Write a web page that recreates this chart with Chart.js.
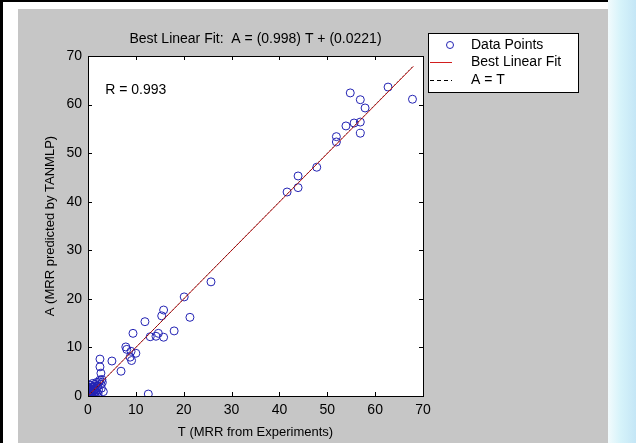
<!DOCTYPE html>
<html lang="en">
<head>
    <meta charset="UTF-8">
    <title>Best Linear Fit</title>
    <script src="https://cdn.jsdelivr.net/npm/chart.js"></script>
    <style>
        body { margin: 0; width: 636px; height: 443px; overflow: hidden; background: #ffffff; position: relative; }
        #leftbar { position: absolute; left: 0; top: 0; width: 3px; height: 443px; background: #000; }
        #topbar { position: absolute; left: 0; top: 0; width: 610px; height: 2px; background: #000; }
        #side { position: absolute; left: 608px; top: 0; width: 28px; height: 443px;
                background: linear-gradient(90deg, #f2fbfd 0%, #d6f3fa 45%, #c4e6f6 100%); }
        #panel { position: absolute; left: 18px; top: 9px; width: 590px; height: 434px; background: #c6c6c6; }
    </style>
</head>
<body>
   <div id="leftbar"></div>
   <div id="topbar"></div>
   <div id="side"></div>
   <div id="panel">
    <canvas id="mychart" width="590" height="434"></canvas>
   </div>
    <script>
        // targets (T) and network outputs (A)
        var targetT = [
            54.8, 56.9, 57.9, 62.7, 67.8, 53.9, 55.6, 56.9, 56.9, 51.9, 51.9, 47.8, 43.9, 43.9, 41.6,
            25.7, 20.1, 21.3, 18.0, 15.8, 15.4, 11.9, 13.0, 14.2, 15.8, 14.7, 12.6,
            9.4, 7.9, 8.1, 10.0, 9.1, 8.8, 6.9, 5.0, 2.5, 2.5, 2.7, 2.9, 3.2, 9.0,
            0.0, 0.1, 0.2, 0.3, 0.4, 0.5, 0.6, 0.7, 0.8, 0.9, 1.0, 1.1, 1.2, 1.3, 1.4,
            1.5, 1.6, 1.7, 1.8, 2.0, 2.2, 2.3, 2.5, 2.7, 3.0, 0.2, 0.5, 2.8, 1.0, 0.3,
            0.0, 0.1, 0.3, 0.4, 0.6, 0.2, 0.8, 0.5, 1.1, 0.9, 1.4, 0.1, 0.6, 1.9, 2.1
        ];
        var outputA = [
            62.4, 61.0, 59.3, 63.6, 61.1, 55.6, 56.2, 56.4, 54.1, 53.4, 52.3, 47.1, 45.3, 42.9, 42.0,
            23.5, 20.4, 16.2, 13.4, 17.7, 16.5, 15.3, 12.2, 12.3, 12.1, 12.9, 0.4,
            12.9, 10.1, 9.6, 8.8, 7.3, 8.0, 5.1, 7.2, 7.6, 6.0, 4.7, 3.4, 0.9, 9.2,
            0.1, 0.4, 0.0, 0.7, 0.2, 1.0, 0.5, 1.4, 0.3, 0.8, 1.7, 1.1, 0.6, 2.0, 1.3,
            2.4, 0.9, 1.6, 2.8, 2.1, 1.2, 2.9, 3.3, 2.4, 2.8, 1.2, 1.8, 1.6, 2.6, 2.3,
            0.6, 0.9, 0.3, 1.2, 0.1, 1.6, 0.0, 2.2, 0.2, 1.9, 0.4, 0.0, 1.3, 0.7, 0.5
        ];
        // fitted line A = 0.998 T + 0.0221 at the ends of the T range
        var fitT = [0, 68];
        var fitA = [0.0221, 67.886];
        var identT = [0, 68];
        var identA = [0, 68];
        var axisTicks = [0, 10, 20, 30, 40, 50, 60, 70];

        var fontFam = "'Liberation Sans', Arial, sans-serif";

        var matlabAxes = {
            id: 'matlabAxes',
            beforeDraw(chart) {
                var a = chart.chartArea, ctx = chart.ctx;
                ctx.save();
                ctx.fillStyle = '#ffffff';
                ctx.fillRect(a.left, a.top, a.right - a.left, a.bottom - a.top);
                ctx.restore();
            },
            afterDraw(chart) {
                var a = chart.chartArea, ctx = chart.ctx;
                var xs = chart.scales.x, ys = chart.scales.y;
                ctx.save();
                ctx.strokeStyle = '#000';
                ctx.lineWidth = 1;
                ctx.strokeRect(Math.round(a.left) + 0.5, Math.round(a.top) + 0.5,
                    Math.round(a.right - a.left), Math.round(a.bottom - a.top));
                ctx.beginPath();
                axisTicks.forEach(function (v) {
                    var px = Math.round(xs.getPixelForValue(v)) + 0.5;
                    ctx.moveTo(px, a.bottom); ctx.lineTo(px, a.bottom - 4);
                    ctx.moveTo(px, a.top); ctx.lineTo(px, a.top + 4);
                    var py = Math.round(ys.getPixelForValue(v)) + 0.5;
                    ctx.moveTo(a.left, py); ctx.lineTo(a.left + 4, py);
                    ctx.moveTo(a.right, py); ctx.lineTo(a.right - 4, py);
                });
                ctx.stroke();

                // title and R value
                ctx.fillStyle = '#000';
                ctx.font = '14px ' + fontFam;
                ctx.textAlign = 'center';
                ctx.textBaseline = 'middle';
                ctx.fillText('Best Linear Fit:  A = (0.998) T + (0.0221)', (a.left + a.right) / 2, 30);
                ctx.textAlign = 'left';
                ctx.fillText('R = 0.993', xs.getPixelForValue(3.6), ys.getPixelForValue(63));

                // legend box
                var bx = 410, by = 24, bw = 150, bh = 59;
                ctx.fillStyle = '#fff';
                ctx.fillRect(bx, by, bw, bh);
                ctx.strokeStyle = '#000';
                ctx.strokeRect(bx + 0.5, by + 0.5, bw, bh);
                var rows = [36, 53, 71];
                chart.data.datasets.forEach(function (ds, i) {
                    var ry = rows[i];
                    ctx.save();
                    ctx.lineWidth = 1;
                    if (i === 0) {
                        ctx.strokeStyle = ds.borderColor;
                        ctx.beginPath();
                        ctx.arc(432, ry, 3.5, 0, Math.PI * 2);
                        ctx.stroke();
                    } else {
                        ctx.strokeStyle = ds.borderDash ? '#000' : ds.borderColor;
                        if (ds.borderDash) ctx.setLineDash([4, 3]);
                        ctx.beginPath();
                        ctx.moveTo(412, ry + 0.5); ctx.lineTo(434, ry + 0.5);
                        ctx.stroke();
                    }
                    ctx.restore();
                    ctx.fillStyle = '#000';
                    ctx.fillText(ds.label, 453, ry);
                });
                ctx.restore();
            }
        };

        function pairs(xs, ys) {
            return xs.map(function (x, i) { return { x: x, y: ys[i] }; });
        }

        var ctx = document.getElementById('mychart').getContext('2d');
        new Chart(ctx, {
            type: 'scatter',
            data: {
                datasets: [{
                    label: 'Data Points',
                    data: pairs(targetT, outputA),
                    borderColor: '#2323b4',
                    backgroundColor: 'rgba(0,0,0,0)',
                    borderWidth: 1,
                    pointRadius: 4,
                    pointHoverRadius: 4,
                    order: 3
                }, {
                    type: 'line',
                    label: 'Best Linear Fit',
                    data: pairs(fitT, fitA),
                    borderColor: '#d21e1e',
                    borderWidth: 1,
                    pointRadius: 0,
                    fill: false,
                    order: 2
                }, {
                    type: 'line',
                    label: 'A = T',
                    data: pairs(identT, identA),
                    borderColor: 'rgba(0,0,0,0.55)',
                    borderDash: [2, 2],
                    borderWidth: 1,
                    pointRadius: 0,
                    fill: false,
                    order: 1
                }]
            },
            options: {
                responsive: false,
                animation: false,
                devicePixelRatio: 1,
                layout: { padding: { left: 0, right: 185, top: 47, bottom: 0 } },
                plugins: { legend: { display: false }, tooltip: { enabled: false } },
                scales: {
                    x: {
                        type: 'linear', min: 0, max: 70,
                        grid: { display: false, drawTicks: false },
                        border: { display: false },
                        afterBuildTicks: function (s) { s.ticks = axisTicks.map(function (v) { return { value: v }; }); },
                        afterFit: function (s) { s.height = 47; },
                        ticks: { color: '#000', padding: 6, font: { family: fontFam, size: 14 }, maxRotation: 0 },
                        title: { display: true, text: 'T (MRR from Experiments)', color: '#000',
                                 font: { family: fontFam, size: 13 }, padding: { top: 0, bottom: 3 } }
                    },
                    y: {
                        type: 'linear', min: 0, max: 70,
                        grid: { display: false, drawTicks: false },
                        border: { display: false },
                        afterBuildTicks: function (s) { s.ticks = axisTicks.map(function (v) { return { value: v }; }); },
                        afterFit: function (s) { s.width = 70; },
                        ticks: { color: '#000', padding: 6, font: { family: fontFam, size: 14 } },
                        title: { display: true, text: 'A (MRR predicted by TANMLP)', color: '#000',
                                 font: { family: fontFam, size: 13 }, padding: { top: 25, bottom: 0 } }
                    }
                }
            },
            plugins: [matlabAxes]
        });
    </script>
</body>
</html>
